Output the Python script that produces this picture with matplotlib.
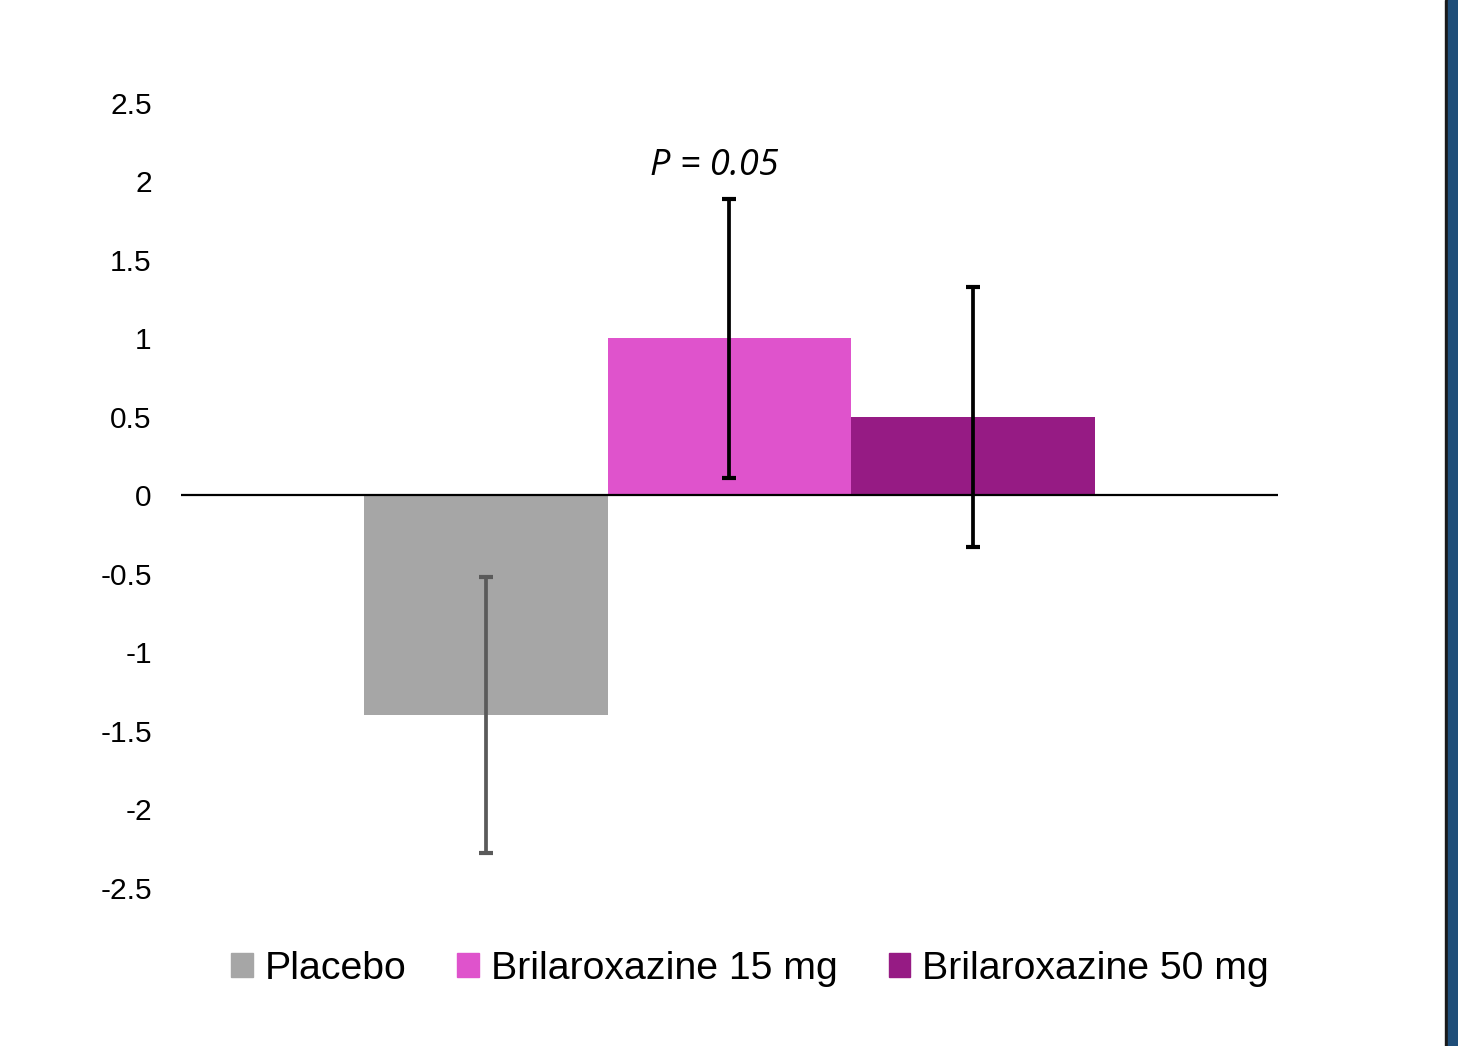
import matplotlib
matplotlib.use("Agg")
import matplotlib.pyplot as plt
from matplotlib.patches import Rectangle

groups = ["Placebo", "Brilaroxazine 15 mg", "Brilaroxazine 50 mg"]
changes = [-1.40, 1.00, 0.50]
errors = [0.88, 0.89, 0.83]
bar_colors = ["#a6a6a6", "#df53cc", "#961b84"]
err_colors = ["#5a5a5a", "#000000", "#000000"]
yticks = [2.5, 2, 1.5, 1, 0.5, 0, -0.5, -1, -1.5, -2, -2.5]
p_label = "P = 0.05"

fig = plt.figure(figsize=(14.58, 10.46), dpi=100)
ax = fig.add_axes([0.1241, 0.1511, 0.7524, 0.7505])

x = range(len(groups))
ax.bar(x, changes, width=1.0, color=bar_colors, label=groups, zorder=2)
for xi, v, e, c in zip(x, changes, errors, err_colors):
    ax.errorbar(xi, v, yerr=e, fmt="none", ecolor=c, elinewidth=2.7,
                capsize=5, capthick=3, zorder=4)

ax.axhline(0, color="black", linewidth=1.6, zorder=3)
ax.set_xlim(-1.25, 3.25)
ax.set_ylim(-2.5, 2.5)
ax.set_yticks(yticks)
ax.set_yticklabels([f"{t:g}" for t in yticks], family="Liberation Sans", fontsize=21.5)
ax.tick_params(axis="y", length=0, pad=21)
ax.set_xticks([])
for s in ax.spines.values():
    s.set_visible(False)

ax.text(0.94, 2.1, p_label, ha="center", va="center", fontsize=26,
        style="italic", family="Open Sans")

handles = [Rectangle((0, 0), 1, 1, color=c) for c in bar_colors]
fig.legend(handles, groups, loc="center", bbox_to_anchor=(750 / 1458, 1 - 969 / 1046),
           ncol=3, frameon=False, prop={"family": "Liberation Sans", "size": 28.3},
           handlelength=0.55, handleheight=0.55, handletextpad=0.3, columnspacing=1.3)

# dark frame at the right edge of the slide
fig.patches.append(Rectangle((1445 / 1458, 0), 3 / 1458, 1, transform=fig.transFigure,
                             color="#1a1a1a", zorder=10))
fig.patches.append(Rectangle((1448 / 1458, 0), 10 / 1458, 1, transform=fig.transFigure,
                             color="#1f4e79", zorder=10))

fig.savefig("out.png", dpi=100)
